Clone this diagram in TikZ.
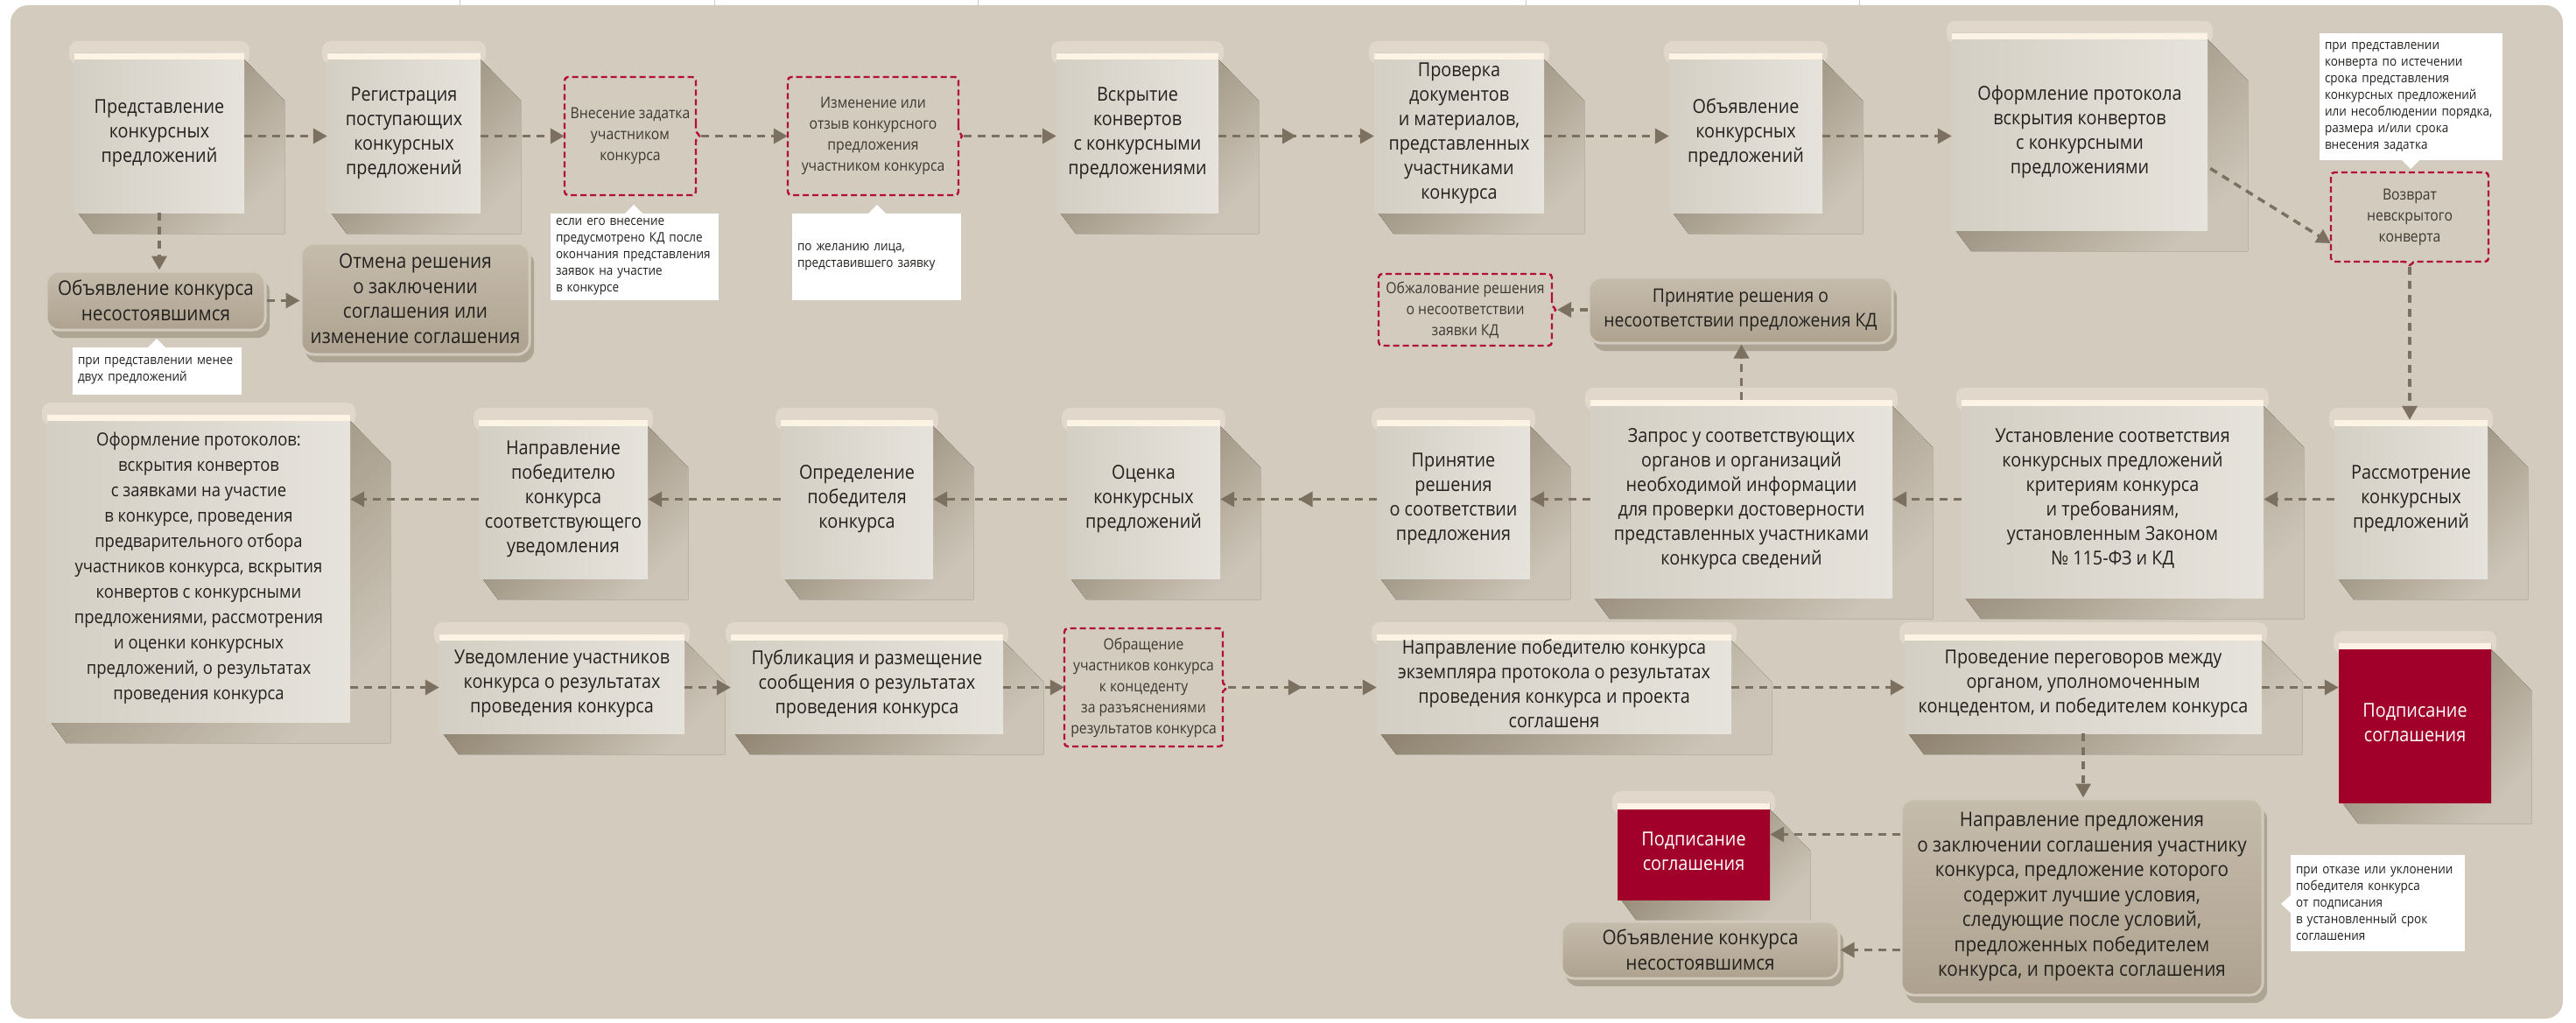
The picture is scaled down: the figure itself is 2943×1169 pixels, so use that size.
\documentclass[tikz,border=0pt]{standalone}
\usepackage{fontspec}
\setmainfont{Open Sans}[FakeStretch=0.9]
\usetikzlibrary{arrows.meta,calc,shadows,decorations.markings}
\pgfdeclarelayer{back}\pgfdeclarelayer{shadow}
\pgfsetlayers{back,shadow,main}
\definecolor{bgc}{RGB}{211,203,190}
\definecolor{boxl}{RGB}{212,207,196}
\definecolor{boxr}{RGB}{230,227,220}
\definecolor{cream}{RGB}{253,243,228}
\definecolor{shd1}{RGB}{138,126,106}
\definecolor{shd2}{RGB}{204,196,183}
\definecolor{rtop}{RGB}{198,188,172}
\definecolor{rbot}{RGB}{174,162,143}
\definecolor{rrim}{RGB}{210,202,189}
\definecolor{redc}{RGB}{160,0,42}
\definecolor{crim}{RGB}{178,16,52}
\definecolor{arrc}{RGB}{124,113,97}
\definecolor{txt}{RGB}{35,33,30}
\definecolor{dtxt}{RGB}{60,56,50}
\definecolor{stripc}{RGB}{205,205,205}
\newcommand\mainf{\fontsize{22}{28}\selectfont}
\newcommand\roundf{\fontsize{23}{28.5}\selectfont}
\newcommand\smallf{\fontsize{17.5}{24}\selectfont}
\newcommand\notef{\fontsize{15}{19}\selectfont}
% gray box: [opts]{name}{x1}{y1}{x2}{y2}{text}
\newcommand\gb[7][]{%
  \pgfmathsetmacro\mybw{#5-#3}\pgfmathsetmacro\mybh{#6-#4}%
  \pgfmathsetmacro\mycx{(#3+#5)/2}\pgfmathsetmacro\mycy{(#4+#6)/2}%
  \node[gbox,#1,minimum width=\mybw pt,minimum height=\mybh pt] (#2) at (\mycx,\mycy) {#7};
  \begin{pgfonlayer}{shadow}
    \fill[cream,opacity=.35,rounded corners=10pt] (#3-6,#4-14) rectangle (#5+6,#4+12);
    \fill[shad] (#5,#4+7) -- (#5+46,#4+54) -- (#5+46,#6+24) -- (#3+22,#6+24) -- (#3+4,#6) -- cycle;
  \end{pgfonlayer}}
% rounded box
\newcommand\rb[7][]{%
  \pgfmathsetmacro\mybw{#5-#3}\pgfmathsetmacro\mybh{#6-#4}%
  \pgfmathsetmacro\mycx{(#3+#5)/2}\pgfmathsetmacro\mycy{(#4+#6)/2}%
  \node[rbox,#1,minimum width=\mybw pt,minimum height=\mybh pt] (#2) at (\mycx,\mycy) {#7};}
% dashed box, notch on the right
\newcommand\dbr[6]{%
  \pgfmathsetmacro\mybw{#4-#2}\pgfmathsetmacro\mybh{#5-#3}%
  \pgfmathsetmacro\mycx{(#2+#4)/2}\pgfmathsetmacro\mycy{(#3+#5)/2}%
  \node[dtext,minimum width=\mybw pt,minimum height=\mybh pt] (#1) at (\mycx,\mycy) {#6};
  \draw[dbord] (#4,\mycy-13) -- (#4,#3) -- (#2,#3) -- (#2,#5) -- (#4,#5) -- (#4,\mycy+13)
    .. controls (#4,\mycy+4) .. (#4+6,\mycy) .. controls (#4,\mycy-4) .. (#4,\mycy-13);
  \coordinate (#1-tip) at (#4+6,\mycy);}
% dashed box, notch at the bottom
\newcommand\dbb[6]{%
  \pgfmathsetmacro\mybw{#4-#2}\pgfmathsetmacro\mybh{#5-#3}%
  \pgfmathsetmacro\mycx{(#2+#4)/2}\pgfmathsetmacro\mycy{(#3+#5)/2}%
  \node[dtext,minimum width=\mybw pt,minimum height=\mybh pt] (#1) at (\mycx,\mycy) {#6};
  \draw[dbord] (\mycx-13,#5) -- (#2,#5) -- (#2,#3) -- (#4,#3) -- (#4,#5) -- (\mycx+13,#5)
    .. controls (\mycx+4,#5) .. (\mycx,#5+6) .. controls (\mycx-4,#5) .. (\mycx-13,#5);
  \coordinate (#1-tip) at (\mycx,#5+6);}
% notes with pointer: {name}{x1}{y1}{x2}{y2}{pointer pos}{text}
\newcommand\notebox[6]{%
  \pgfmathsetmacro\mytw{#4-#2-12}\pgfmathsetmacro\mybh{#5-#3}%
  \pgfmathsetmacro\mycx{(#2+#4)/2}\pgfmathsetmacro\mycy{(#3+#5)/2}%
  \node[note,text width=\mytw pt,minimum height=\mybh pt] (#1) at (\mycx,\mycy) {#6};}
\newcommand\noteU[7]{\notebox{#1}{#2}{#3}{#4}{#5}{#7}%
  \fill[white] (#6-11,#3+1) -- (#6,#3-10) -- (#6+11,#3+1) -- cycle;}
\newcommand\noteD[7]{\notebox{#1}{#2}{#3}{#4}{#5}{#7}%
  \fill[white] (#6-11,#5-1) -- (#6,#5+10) -- (#6+11,#5-1) -- cycle;}
\newcommand\noteL[7]{\notebox{#1}{#2}{#3}{#4}{#5}{#7}%
  \fill[white] (#2+1,#6-11) -- (#2-11,#6) -- (#2+1,#6+11) -- cycle;}
\begin{document}
\begin{tikzpicture}[x=1pt,y=-1pt,
  creamtop/.style={path picture={\fill[cream] (path picture bounding box.north west) rectangle ([yshift=-7pt]path picture bounding box.north east);}},
  gbox/.style={rectangle,inner xsep=2pt,inner ysep=3pt,left color=boxl,right color=boxr,align=center,text=txt,font=\mainf,creamtop},
  redbox/.style={left color=redc,right color=redc,text=white},
  rbox/.style={rectangle,rounded corners=14pt,top color=rtop,bottom color=rbot,draw=rrim,line width=3pt,align=center,text=txt,font=\roundf,inner sep=3pt,
    drop shadow={shadow xshift=5pt,shadow yshift=-9pt,fill=shd1,opacity=.5}},
  dtext/.style={rectangle,inner sep=2pt,align=center,text=dtxt,font=\smallf},
  dbord/.style={draw=crim,line width=2.4pt,dash pattern=on 7pt off 4pt,rounded corners=4pt},
  note/.style={rectangle,fill=white,inner xsep=6pt,inner ysep=2pt,align=left,text=txt,font=\notef},
  shad/.style={top color=shd1,bottom color=shd2,shading angle=45},
  arr/.style={draw=arrc,line width=3.5pt,dash pattern=on 9pt off 7pt,-{Triangle[length=16pt,width=17pt]}},
  marr/.style={arr,postaction={decorate,decoration={markings,mark=at position 0.5 with {\arrow[solid,arrc]{Triangle[length=16pt,width=17pt]}}}}}]
\useasboundingbox (0,0) rectangle (2943,1169);
\begin{pgfonlayer}{back}
  \fill[white] (0,0) rectangle (2943,1169);
  \fill[bgc,rounded corners=20pt] (12,6) rectangle (2928,1164);
  \foreach \lx in {525,816,1117,1743,2124} \draw[stripc,line width=1pt] (\lx,0) -- (\lx,6);
\end{pgfonlayer}

% ---- row 1
\gb{A1}{85}{61}{279}{243}{Представление\\конкурсных\\предложений}
\gb{A2}{374}{61}{549}{243}{Регистрация\\поступающих\\конкурсных\\предложений}
\dbr{D1}{645}{88}{795}{223}{Внесение задатка\\участником\\конкурса}
\dbr{D2}{900}{88}{1095}{223}{Изменение или\\отзыв конкурсного\\предложения\\участником конкурса}
\gb{A3}{1207}{61}{1392}{243}{Вскрытие\\конвертов\\с конкурсными\\предложениями}
\gb{A4}{1570}{61}{1764}{243}{Проверка\\документов\\и материалов,\\представленных\\участниками\\конкурса}
\gb{A5}{1907}{61}{2082}{243}{Объявление\\конкурсных\\предложений}
\gb{A6}{2230}{38}{2522}{263}{Оформление протокола\\вскрытия конвертов\\с конкурсными\\предложениями}
\noteD{N4}{2650}{38}{2859}{183}{2754}{при представлении\\конверта по истечении\\срока представления\\конкурсных предложений\\или несоблюдении порядка,\\размера и/или срока\\внесения задатка}
\dbb{D3}{2663}{197}{2843}{299}{Возврат\\невскрытого\\конверта}

% ---- under row 1
\rb{R1}{53}{310}{303}{377}{Объявление конкурса\\несостоявшимся}
\rb{R2}{344}{278}{605}{405}{Отмена решения\\о заключении\\соглашения или\\изменение соглашения}
\noteU{N1}{83}{397}{276}{451}{179}{при представлении менее\\двух предложений}
\noteU{N2}{629}{244}{821}{343}{724}{если его внесение\\предусмотрено КД после\\окончания представления\\заявок на участие\\в конкурсе}
\noteU{N3}{905}{244}{1098}{343}{1002}{по желанию лица,\\представившего заявку}
\dbr{D4}{1575}{313}{1773}{395}{Обжалование решения\\о несоответствии\\заявки КД}
\rb[font={\fontsize{21.5}{28}\selectfont}]{R3}{1815}{317}{2162}{392}{Принятие решения о\\несоответствии предложения КД}

% ---- row 2
\gb[font={\fontsize{20.5}{29}\selectfont}]{B1}{54}{474}{400}{825}{Оформление протоколов:\\вскрытия конвертов\\с заявками на участие\\в конкурсе, проведения\\предварительного отбора\\участников конкурса, вскрытия\\конвертов с конкурсными\\предложениями, рассмотрения\\и оценки конкурсных\\предложений, о результатах\\проведения конкурса}
\gb{B2}{547}{480}{740}{661}{Направление\\победителю\\конкурса\\соответствующего\\уведомления}
\gb{B3}{892}{480}{1066}{661}{Определение\\победителя\\конкурса}
\gb{B4}{1219}{480}{1394}{661}{Оценка\\конкурсных\\предложений}
\gb{B5}{1573}{480}{1748}{661}{Принятие\\решения\\о соответствии\\предложения}
\gb{B6}{1817}{457}{2162}{683}{Запрос у соответствующих\\органов и организаций\\необходимой информации\\для проверки достоверности\\представленных участниками\\конкурса сведений}
\gb{B7}{2241}{457}{2586}{683}{Установление соответствия\\конкурсных предложений\\критериям конкурса\\и требованиям,\\установленным Законом\\№ 115-ФЗ и КД}
\gb{B8}{2667}{480}{2842}{661}{Рассмотрение\\конкурсных\\предложений}

% ---- row 3
\gb{C1}{502}{725}{782}{838}{Уведомление участников\\конкурса о результатах\\проведения конкурса}
\gb{C2}{835}{725}{1146}{838}{Публикация и размещение\\сообщения о результатах\\проведения конкурса}
\dbr{D5}{1216}{718}{1397}{853}{Обращение\\участников конкурса\\к концеденту\\за разъяснениями\\результатов конкурса}
\gb{C3}{1573}{725}{1978}{838}{Направление победителю конкурса\\экземпляра протокола о результатах\\проведения конкурса и проекта\\соглашеня}
\gb{C4}{2176}{725}{2584}{838}{Проведение переговоров между\\органом, уполномоченным\\концедентом, и победителем конкурса}
\gb[redbox]{S1}{2672}{735}{2846}{917}{Подписание\\соглашения}

% ---- row 4
\rb{R4}{2172}{913}{2585}{1137}{Направление предложения\\о заключении соглашения участнику\\конкурса, предложение которого\\содержит лучшие условия,\\следующие после условий,\\предложенных победителем\\конкурса, и проекта соглашения}
\gb[redbox]{S2}{1848}{918}{2022}{1028}{Подписание\\соглашения}
\rb{R5}{1784}{1053}{2101}{1118}{Объявление конкурса\\несостоявшимся}
\noteL{N5}{2617}{977}{2816}{1087}{1033}{при отказе или уклонении\\победителя конкурса\\от подписания\\в установленный срок\\соглашения}

% ---- connectors
\draw[arr] (A1.east |- D1-tip) -- (A2.west |- D1-tip);
\draw[arr] (A2.east |- D1-tip) -- (D1.west);
\draw[arr] (D1-tip) -- (D1-tip -| D2.west);
\draw[arr] (D2-tip) -- (D2-tip -| A3.west);
\draw[marr] (A3.east |- D1-tip) -- (A4.west |- D1-tip);
\draw[arr] (A4.east |- D1-tip) -- (A5.west |- D1-tip);
\draw[arr] (A5.east |- D1-tip) -- (A6.west |- D1-tip);
\draw[arr] ($(A6.east)+(3,42)$) -- ($(D3.west)+(0,30)$);
\draw[arr] (D3-tip) -- (D3-tip |- B8.north);
\draw[arr] (A1.south) -- (A1.south |- R1.north);
\draw[arr] (R1.east) -- (R1.east -| R2.west);
\draw[arr] (R3.west |- D4-tip) -- (D4-tip);
\draw[arr] (B6.north) -- (B6.north |- R3.south);

\draw[arr] (B8.west) -- (B8.west -| B7.east);
\draw[arr] (B8.west -| B7.west) -- (B8.west -| B6.east);
\draw[arr] (B8.west -| B6.west) -- (B8.west -| B5.east);
\draw[marr] (B8.west -| B5.west) -- (B8.west -| B4.east);
\draw[arr] (B8.west -| B4.west) -- (B8.west -| B3.east);
\draw[arr] (B8.west -| B3.west) -- (B8.west -| B2.east);
\draw[arr] (B8.west -| B2.west) -- (B8.west -| B1.east);

\draw[arr] (B1.east |- D5-tip) -- (C1.west |- D5-tip);
\draw[arr] (C1.east |- D5-tip) -- (C2.west |- D5-tip);
\draw[arr] (C2.east |- D5-tip) -- (D5.west);
\draw[marr] (D5-tip) -- (D5-tip -| C3.west);
\draw[arr] (C3.east |- D5-tip) -- (C4.west |- D5-tip);
\draw[arr] (C4.east |- D5-tip) -- (S1.west |- D5-tip);
\draw[arr] (C4.south) -- (C4.south |- R4.north);
\coordinate (r4a) at ($(R4.north west)+(0,42)$);
\draw[arr] (r4a) -- (r4a -| S2.east);
\draw[arr] (R5.east -| R4.west) -- (R5.east);
\end{tikzpicture}
\end{document}
